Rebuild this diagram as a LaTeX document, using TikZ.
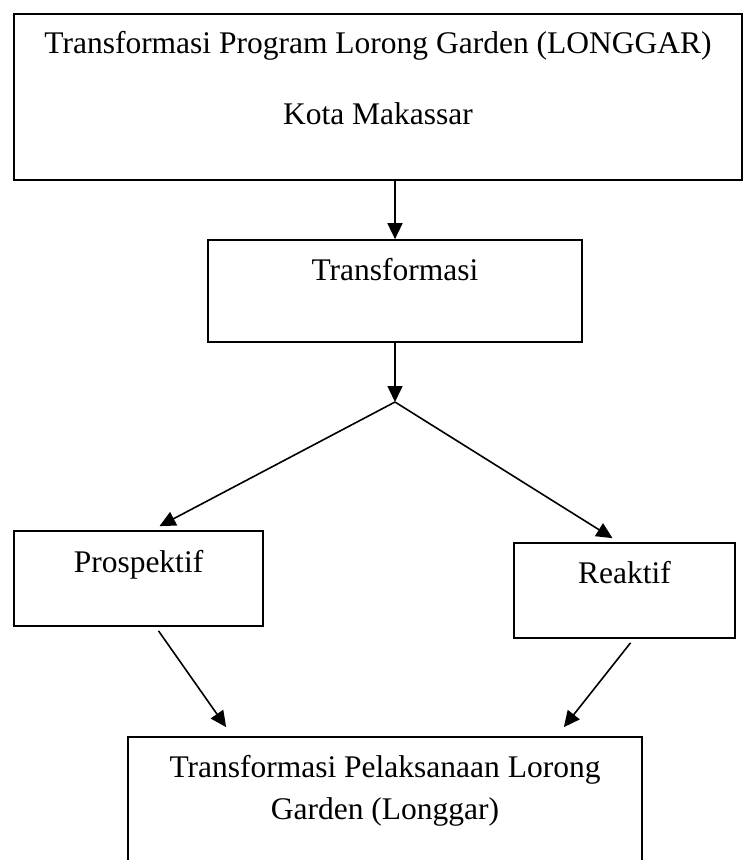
\documentclass[tikz,border=0pt]{standalone}
\usepackage{fontspec}
\setmainfont{Liberation Serif}
\usetikzlibrary{arrows.meta,positioning}

\begin{document}
\begin{tikzpicture}[x=1pt, y=-1pt,
            every node/.style={draw, line width=1.7pt, inner sep=0pt, anchor=base,
                font=\fontsize{31.5}{36}\selectfont},
            panah/.style={-{Triangle[length=16pt, width=15pt]}, line width=1.6pt}]
            \clip (0,0) rectangle (743,860);
            \node[minimum width=728pt, text height=110pt, text depth=56pt, align=center]
                (program) at (378,124) {Transformasi Program Lorong Garden (LONGGAR)\\[35pt]Kota Makassar};
            \node[minimum width=374pt, text height=40pt, text depth=62pt]
                (trans) at (395,280) {Transformasi};
            \node[minimum width=249pt, text height=41pt, text depth=54pt]
                (pros) at (138.5,572) {Prospektif};
            \node[minimum width=221pt, text height=40pt, text depth=55pt]
                (reak) at (624.5,583) {Reaktif};
            \node[minimum width=514pt, text height=82pt, text depth=81pt, align=center]
                (hasil) at (385,819) {Transformasi Pelaksanaan Lorong\\[6pt]Garden (Longgar)};
            \coordinate (cabang) at (395,402);
            \path[panah] (trans.north |- program.south) edge (trans.north)
                        (trans.south) edge (cabang)
                        (cabang) edge ([xshift=21pt, yshift=4pt]pros.north)
                        (cabang) edge ([xshift=-12pt, yshift=4pt]reak.north)
                        ([xshift=20pt, yshift=-4pt]pros.south) edge ([xshift=99pt, yshift=9pt]hasil.north west)
                        ([xshift=6pt, yshift=-4pt]reak.south) edge ([xshift=-79pt, yshift=9pt]hasil.north east);
        \end{tikzpicture}
\end{document}
